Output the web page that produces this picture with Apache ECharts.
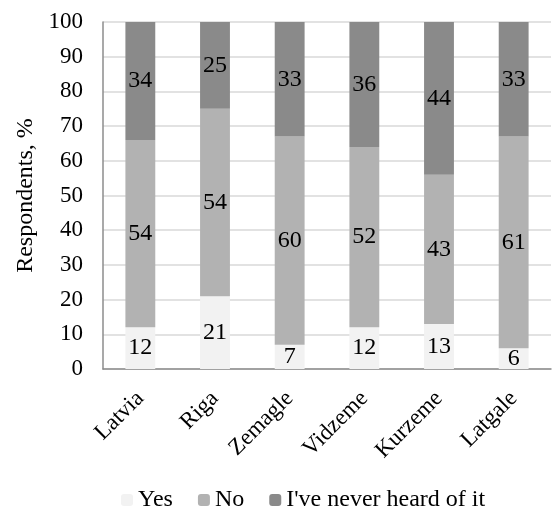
<!DOCTYPE html>
<html>
<head>
<meta charset="utf-8">
<script src="https://cdn.jsdelivr.net/npm/echarts@6/dist/echarts.min.js"></script>
<style>
  html, body { margin: 0; padding: 0; background: #ffffff; }
  #chart { width: 552px; height: 513px; }
</style>
</head>
<body>
<div id="chart"></div>
<script>
// Survey answers by region, percent of respondents
const regions = ['Latvia', 'Riga', 'Zemagle', 'Vidzeme', 'Kurzeme', 'Latgale'];
const yesValues = [12, 21, 7, 12, 13, 6];
const noValues = [54, 54, 60, 52, 43, 61];
const neverValues = [34, 25, 33, 36, 44, 33];
const yTicks = [0, 10, 20, 30, 40, 50, 60, 70, 80, 90, 100];

const font = '"Liberation Serif", "Times New Roman", serif';

function stackSeries(name, values, color) {
  return {
    name: name,
    type: 'bar',
    stack: 'answers',
    data: values,
    barWidth: '40%',
    itemStyle: { color: color },
    label: {
      show: true,
      position: 'inside',
      color: '#000',
      fontFamily: font,
      fontSize: 24
    }
  };
}

const chart = echarts.init(document.getElementById('chart'));
chart.setOption({
  animation: false,
  grid: { left: 103, right: 1, top: 22, bottom: 144 },
  legend: {
    top: 488,
    left: 121,
    padding: 0,
    itemWidth: 12,
    itemHeight: 12,
    itemGap: 25,
    textStyle: { fontFamily: font, fontSize: 24, color: '#000' },
    data: ['Yes', 'No', "I've never heard of it"]
  },
  xAxis: {
    type: 'category',
    data: regions,
    axisLine: { lineStyle: { color: '#8c8c8c', width: 1.5 } },
    axisTick: { show: false },
    axisLabel: {
      rotate: 45,
      fontFamily: font,
      fontSize: 23,
      color: '#000',
      margin: 26
    }
  },
  yAxis: {
    type: 'value',
    min: yTicks[0],
    max: yTicks[yTicks.length - 1],
    interval: 10,
    name: 'Respondents, %',
    nameLocation: 'middle',
    nameGap: 65,
    nameTextStyle: { fontFamily: font, fontSize: 24, color: '#000' },
    axisLine: { show: true, lineStyle: { color: '#8c8c8c', width: 1.5 } },
    axisTick: { show: false },
    axisLabel: { fontFamily: font, fontSize: 23, color: '#000', margin: 20 },
    splitLine: { lineStyle: { color: '#d9d9d9', width: 1.5 } }
  },
  series: [
    stackSeries('Yes', yesValues, '#f2f2f2'),
    stackSeries('No', noValues, '#b2b2b2'),
    stackSeries("I've never heard of it", neverValues, '#8a8a8a')
  ]
});
</script>
</body>
</html>
